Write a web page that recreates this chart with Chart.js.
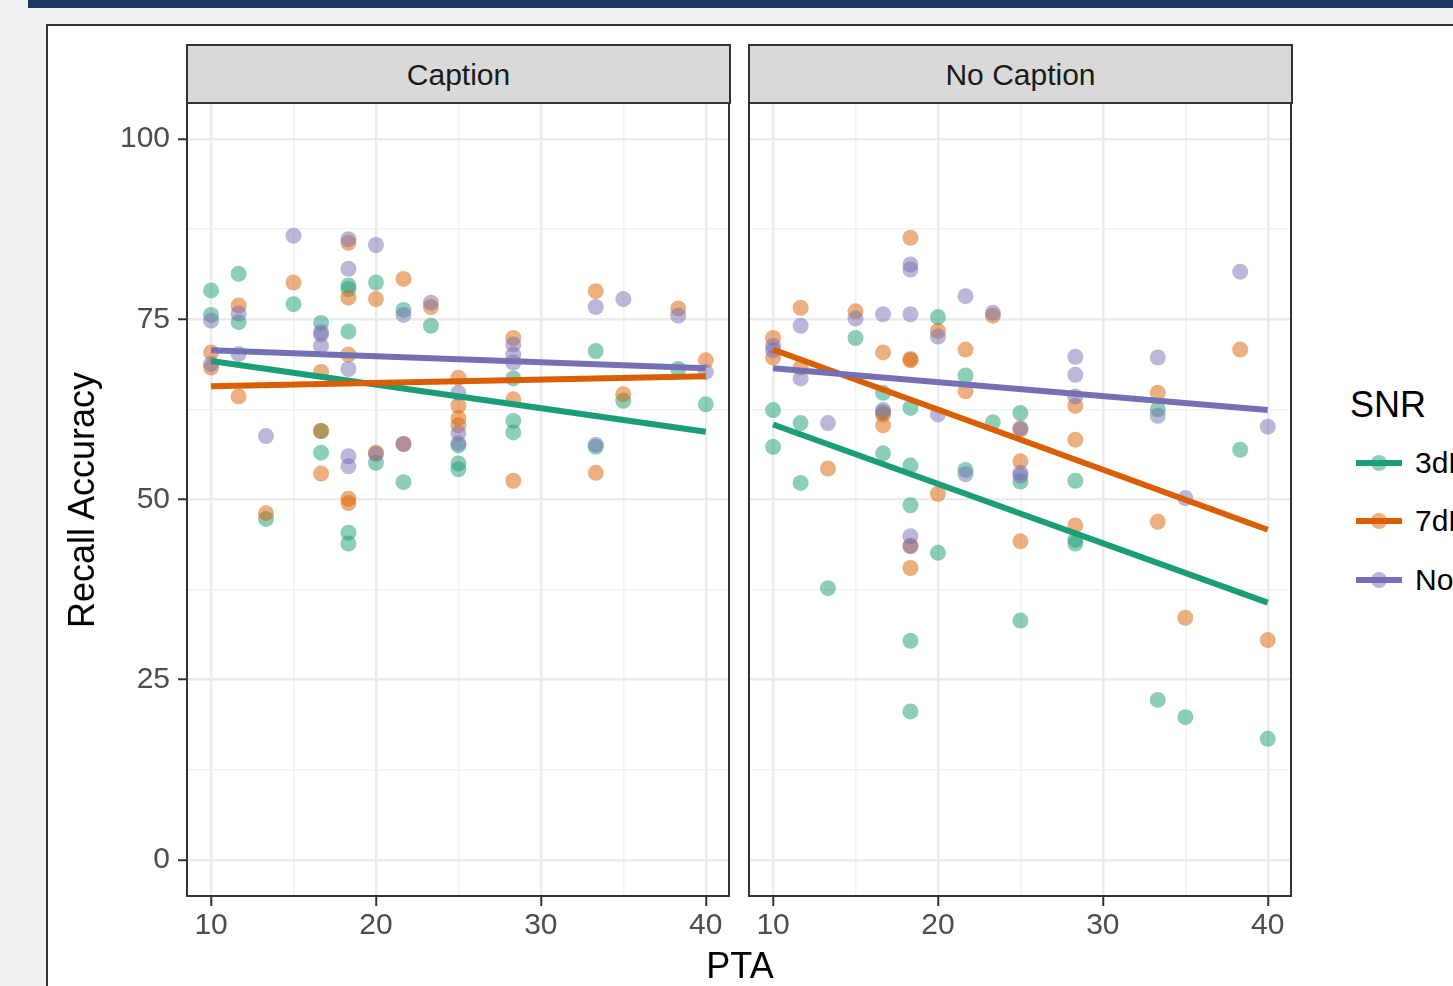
<!DOCTYPE html>
<html>
<head>
<meta charset="utf-8">
<script src="https://cdn.jsdelivr.net/npm/chart.js@4.4.1/dist/chart.umd.min.js"></script>
<style>
  html, body { margin: 0; padding: 0; }
  body {
    width: 1453px; height: 986px; overflow: hidden; position: relative;
    background: #f0f0f0;
    font-family: "Liberation Sans", Arial, Helvetica, sans-serif;
  }
  .bar { position: absolute; left: 28px; top: 0; right: 0; height: 8px; background: #1b365f; }
  .sheet {
    position: absolute; left: 46px; top: 24px; width: 1500px; height: 1100px;
    background: #fff; border: 2px solid #333;
  }
  canvas { position: absolute; }
  .strip {
    position: absolute; top: 44px; height: 60px; box-sizing: border-box;
    background: #d9d9d9; border: 2px solid #333;
    font-size: 30px; color: #1a1a1a; text-align: center; line-height: 58px;
  }
  .ytitle {
    position: absolute; left: 82px; top: 500px; white-space: nowrap;
    font-size: 36px; color: #000;
    transform: translate(-50%, -50%) rotate(-90deg);
  }
  .xtitle {
    position: absolute; left: 740px; top: 966px; font-size: 36px; color: #000;
    transform: translate(-50%, -50%);
  }
  .legend-title { position: absolute; left: 1350px; top: 384px; font-size: 36px; color: #000; line-height: 42px; }
  .key { position: absolute; left: 1356px; width: 46px; height: 6px; }
  .dot { position: absolute; width: 16px; height: 16px; border-radius: 50%; }
  .key-label { position: absolute; left: 1415px; font-size: 30px; color: #000; line-height: 36px; white-space: nowrap; }
</style>
</head>
<body>
<div class="bar"></div>
<div class="sheet"></div>

<canvas id="captionChart" width="685" height="860" style="left:47px;top:93px"></canvas>
<canvas id="noCaptionChart" width="548" height="860" style="left:746px;top:93px"></canvas>

<div class="strip" style="left:186px;width:545px">Caption</div>
<div class="strip" style="left:748px;width:545px">No Caption</div>

<div class="ytitle">Recall Accuracy</div>
<div class="xtitle">PTA</div>

<div class="legend-title">SNR</div>
<div id="legend"></div>

<script>
// SNR groups and colours (ColorBrewer Dark2)
const snrLabels = ['3dB', '7dB', 'No Noise'];
const snrColors = ['#1b9e77', '#d95f02', '#7570b3'];
const snrPointColors = ['rgba(27,158,119,0.5)', 'rgba(217,95,2,0.5)', 'rgba(117,112,179,0.5)'];

const xMajorTicks = [10, 20, 30, 40];
const xMinorTicks = [15, 25, 35];
const yMajorTicks = [0, 25, 50, 75, 100];
const yMinorTicks = [12.5, 37.5, 62.5, 87.5];

// PTA at which the fitted lines start and end
const fitPta = [10, 40];

// Caption panel: [PTA, recall accuracy]
const caption3dB = [
    [10, 79.0], [10, 75.6], [11.67, 81.3], [11.67, 74.6], [13.33, 47.3], [15, 77.1],
    [16.67, 74.5], [16.67, 59.5], [16.67, 56.5], [18.33, 79.7], [18.33, 79.2], [18.33, 73.3],
    [18.33, 45.4], [18.33, 43.9], [20, 80.1], [20, 55.1], [21.67, 76.3], [21.67, 52.4],
    [23.33, 74.1], [25, 57.5], [25, 55.0], [25, 54.2], [28.33, 66.8], [28.33, 60.9],
    [28.33, 59.3], [33.33, 70.6], [33.33, 57.3], [35, 63.7], [38.33, 68.1], [40, 63.2]
];
const caption7dB = [
    [10, 70.4], [10, 68.3], [11.67, 76.9], [11.67, 64.3], [13.33, 48.1], [15, 80.1],
    [16.67, 67.7], [16.67, 59.5], [16.67, 53.6], [18.33, 85.6], [18.33, 78.0], [18.33, 70.1],
    [18.33, 50.1], [18.33, 49.5], [20, 77.8], [20, 56.5], [21.67, 80.6], [21.67, 57.7],
    [23.33, 76.7], [25, 66.9], [25, 63.0], [25, 61.3], [25, 60.3], [28.33, 72.4],
    [28.33, 63.9], [28.33, 52.6], [33.33, 78.9], [33.33, 53.7], [35, 64.6], [38.33, 76.5],
    [40, 69.3]
];
const captionNoNoise = [
    [10, 74.8], [10, 68.8], [11.67, 75.8], [11.67, 70.2], [13.33, 58.8], [15, 86.6],
    [16.67, 73.2], [16.67, 72.9], [16.67, 71.3], [18.33, 86.1], [18.33, 82.0], [18.33, 68.1],
    [18.33, 56.0], [18.33, 54.6], [20, 85.3], [20, 56.3], [21.67, 75.6], [21.67, 57.7],
    [23.33, 77.3], [25, 64.8], [25, 59.2], [25, 57.8], [28.33, 71.5], [28.33, 70.1],
    [28.33, 69.0], [33.33, 76.7], [33.33, 57.6], [35, 77.8], [38.33, 75.5], [40, 67.7]
];
const captionFit3dB = [69.2, 59.4];
const captionFit7dB = [65.7, 67.1];
const captionFitNoNoise = [70.7, 68.2];

// No Caption panel
const noCaption3dB = [
    [10, 62.4], [10, 57.3], [11.67, 60.6], [11.67, 52.3], [13.33, 37.7], [15, 72.4],
    [16.67, 64.8], [16.67, 62.1], [16.67, 56.4], [18.33, 62.7], [18.33, 54.7], [18.33, 49.2],
    [18.33, 30.4], [18.33, 20.6], [20, 75.3], [20, 42.6], [21.67, 67.2], [21.67, 54.1],
    [23.33, 60.7], [25, 62.0], [25, 52.5], [25, 33.2], [28.33, 52.6], [28.33, 44.4],
    [28.33, 43.9], [33.33, 62.5], [33.33, 22.2], [35, 19.8], [38.33, 56.9], [40, 16.8]
];
const noCaption7dB = [
    [10, 72.4], [10, 69.7], [11.67, 76.6], [11.67, 68.3], [13.33, 54.3], [15, 76.1],
    [16.67, 70.4], [16.67, 61.8], [16.67, 60.3], [18.33, 86.3], [18.33, 69.5], [18.33, 69.3],
    [18.33, 43.6], [18.33, 40.5], [20, 73.4], [20, 50.8], [21.67, 70.8], [21.67, 65.0],
    [23.33, 75.5], [25, 59.7], [25, 55.3], [25, 44.2], [28.33, 63.0], [28.33, 58.3],
    [28.33, 46.4], [33.33, 64.8], [33.33, 46.9], [35, 33.6], [38.33, 70.8], [40, 30.5]
];
const noCaptionNoNoise = [
    [10, 71.3], [10, 70.7], [11.67, 74.1], [11.67, 66.8], [13.33, 60.6], [15, 75.1],
    [16.67, 75.7], [16.67, 62.4], [18.33, 82.6], [18.33, 81.9], [18.33, 75.7], [18.33, 44.9],
    [18.33, 43.5], [20, 72.6], [20, 61.8], [21.67, 78.2], [21.67, 53.5], [23.33, 75.9],
    [25, 59.9], [25, 53.7], [25, 53.3], [28.33, 69.8], [28.33, 67.3], [28.33, 64.3],
    [33.33, 69.7], [33.33, 61.6], [35, 50.2], [38.33, 81.6], [40, 60.1]
];
const noCaptionFit3dB = [60.4, 35.7];
const noCaptionFit7dB = [70.8, 45.8];
const noCaptionFitNoNoise = [68.2, 62.4];

const FONT = "'Liberation Sans', Arial, Helvetica, sans-serif";

const panelBorder = {
    id: 'panelBorder',
    afterDraw(chart) {
        const { ctx, chartArea: a } = chart;
        ctx.save();
        ctx.strokeStyle = '#333333';
        ctx.lineWidth = 2;
        ctx.strokeRect(a.left, a.top, a.right - a.left, a.bottom - a.top);
        ctx.restore();
    }
};

function toPoints(pairs) {
    return pairs.map(p => ({ x: p[0], y: p[1] }));
}

function fitLine(ends) {
    return fitPta.map((x, i) => ({ x: x, y: ends[i] }));
}

// stop label overhang from pushing the plot area around
function noOverhang(axis) {
    axis.paddingTop = 0;
    axis.paddingBottom = 0;
    axis.paddingLeft = 0;
    axis.paddingRight = 0;
}

function buildPanel(canvasId, groups, fits, showYAxis) {
    const datasets = [];
    // fitted lines on top, later groups above earlier ones
    for (let i = 0; i < 3; i++) {
        datasets.push({
            label: snrLabels[i] + ' fit',
            data: fitLine(fits[i]),
            showLine: true,
            borderColor: snrColors[i],
            borderWidth: 6,
            pointRadius: 0,
            order: 2 - i
        });
    }
    for (let i = 0; i < 3; i++) {
        datasets.push({
            label: snrLabels[i],
            data: toPoints(groups[i]),
            backgroundColor: snrPointColors[i],
            borderWidth: 0,
            pointRadius: 8,
            pointHoverRadius: 8,
            order: 5 - i
        });
    }

    const xTicks = xMajorTicks.concat(xMinorTicks).sort((a, b) => a - b);
    const yTicks = yMajorTicks.concat(yMinorTicks).sort((a, b) => a - b);

    return new Chart(document.getElementById(canvasId), {
        type: 'scatter',
        data: { datasets: datasets },
        options: {
            responsive: false,
            animation: false,
            devicePixelRatio: 1,
            layout: {
                autoPadding: false,
                padding: showYAxis ? { top: 10, right: 3, bottom: 0, left: 0 } : { top: 10, right: 3, bottom: 0, left: 3 }
            },
            plugins: { legend: { display: false }, tooltip: { enabled: false } },
            scales: {
                x: {
                    type: 'linear',
                    min: 8.54,
                    max: 41.41,
                    afterBuildTicks: axis => { axis.ticks = xTicks.map(v => ({ value: v })); },
                    afterFit: axis => { axis.height = 57; noOverhang(axis); },
                    border: { display: false },
                    grid: {
                        color: ctx => xMajorTicks.includes(ctx.tick.value) ? '#ebebeb' : '#f2f2f2',
                        lineWidth: ctx => xMajorTicks.includes(ctx.tick.value) ? 2.5 : 1.5,
                        tickColor: ctx => xMajorTicks.includes(ctx.tick.value) ? '#333333' : 'rgba(0,0,0,0)',
                        tickWidth: 2,
                        tickLength: 10
                    },
                    ticks: {
                        autoSkip: false,
                        maxRotation: 0,
                        padding: 2,
                        color: '#4d4d4d',
                        font: { family: FONT, size: 30 },
                        callback: v => xMajorTicks.includes(v) ? String(v) : ''
                    }
                },
                y: {
                    type: 'linear',
                    min: -5,
                    max: 105,
                    afterBuildTicks: axis => { axis.ticks = yTicks.map(v => ({ value: v })); },
                    afterFit: axis => { axis.width = showYAxis ? 140 : 0; noOverhang(axis); },
                    border: { display: false },
                    grid: {
                        color: ctx => yMajorTicks.includes(ctx.tick.value) ? '#ebebeb' : '#f2f2f2',
                        lineWidth: ctx => yMajorTicks.includes(ctx.tick.value) ? 2.5 : 1.5,
                        drawTicks: showYAxis,
                        tickColor: ctx => yMajorTicks.includes(ctx.tick.value) ? '#333333' : 'rgba(0,0,0,0)',
                        tickWidth: 2,
                        tickLength: 9
                    },
                    ticks: {
                        display: showYAxis,
                        autoSkip: false,
                        padding: 8,
                        color: '#4d4d4d',
                        font: { family: FONT, size: 30 },
                        callback: v => yMajorTicks.includes(v) ? String(v) : ''
                    }
                }
            }
        },
        plugins: [panelBorder]
    });
}

buildPanel('captionChart',
    [caption3dB, caption7dB, captionNoNoise],
    [captionFit3dB, captionFit7dB, captionFitNoNoise], true);

buildPanel('noCaptionChart',
    [noCaption3dB, noCaption7dB, noCaptionNoNoise],
    [noCaptionFit3dB, noCaptionFit7dB, noCaptionFitNoNoise], false);

// legend keys
const keyCentres = [463, 521, 580];
const legend = document.getElementById('legend');
snrLabels.forEach((label, i) => {
    const y = keyCentres[i];
    legend.insertAdjacentHTML('beforeend',
        '<div class="key" style="top:' + (y - 3) + 'px;background:' + snrColors[i] + '"></div>' +
        '<div class="dot" style="left:1371px;top:' + (y - 8) + 'px;background:' + snrPointColors[i] + '"></div>' +
        '<div class="key-label" style="top:' + (y - 18) + 'px">' + label + '</div>');
});
</script>
</body>
</html>
